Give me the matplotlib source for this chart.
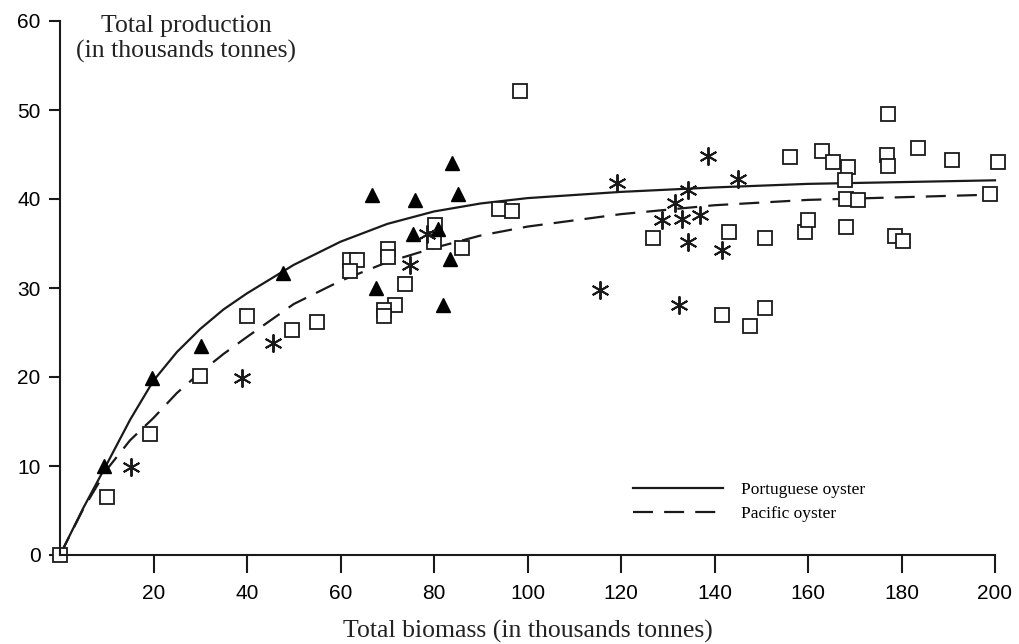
from matplotlib import pyplot as plt
from matplotlib.lines import Line2D

tri_x = [9.4, 19.6, 30.2, 47.8, 66.7, 75.9, 83.8, 85.2, 75.6, 80.9, 83.4, 67.7, 82.0]
tri_y = [10.0, 19.9, 23.5, 31.7, 40.4, 39.9, 44.0, 40.6, 36.1, 36.6, 33.3, 30.0, 28.1]

sq_x = [0, 10, 19.3, 30, 39.9, 49.6, 54.9, 62, 63.5, 62, 70.2, 70.2, 73.8, 71.7, 69.2, 69.2,
        80.2, 79.9, 86.0, 93.8, 96.6, 98.4, 126.9, 143, 141.5, 147.6, 150.8, 150.8, 156.1,
        163.1, 165.3, 168.6, 167.9, 168.1, 170.8, 159.4, 160.1, 168.1, 176.8, 177.2, 177.2,
        178.6, 180.4, 183.6, 190.9, 198.9, 200.7]
sq_y = [0, 6.5, 13.6, 20.1, 26.8, 25.3, 26.2, 33.2, 33.1, 31.9, 34.4, 33.5, 30.4, 28.1, 27.5, 26.8,
        37.1, 35.2, 34.5, 38.9, 38.7, 52.1, 35.6, 36.3, 27.0, 25.7, 27.7, 35.6, 44.7,
        45.4, 44.2, 43.6, 42.1, 40.0, 39.9, 36.3, 37.6, 36.9, 44.9, 43.7, 49.6,
        35.8, 35.3, 45.7, 44.4, 40.6, 44.2]

ast_x = [15.2, 38.9, 45.6, 74.9, 78.4, 115.5, 119.1, 128.7, 131.6, 133.0, 134.4, 136.9,
         134.4, 138.7, 141.5, 145.1, 132.3]
ast_y = [9.9, 19.9, 23.8, 32.6, 36.1, 29.8, 41.8, 37.6, 39.5, 37.8, 41.0, 38.2,
         35.2, 44.8, 34.3, 42.3, 28.1]

# fitted curves, read at these biomass values
curve_x = [0, 5, 10, 15, 20, 25, 30, 35, 40, 50, 60, 70, 80, 90, 100, 120, 140, 160, 180, 200]
portuguese = [0, 5.3, 10.2, 15.2, 19.6, 22.8, 25.4, 27.6, 29.4, 32.6, 35.2, 37.2, 38.6, 39.5,
              40.1, 40.8, 41.3, 41.7, 41.9, 42.1]
pacific = [0, 5.2, 9.6, 12.9, 15.4, 18.2, 20.5, 22.6, 24.5, 28.2, 30.8, 32.9, 34.5, 35.9,
           36.9, 38.3, 39.3, 39.9, 40.2, 40.5]

x_ticks = [20, 40, 60, 80, 100, 120, 140, 160, 180, 200]
y_ticks = [0, 10, 20, 30, 40, 50, 60]

SERIF = 'Liberation Serif'
SANS = 'Liberation Sans'


def main():
    fig = plt.figure(figsize=(10.2, 6.44), dpi=100)
    ax = fig.add_axes([60 / 1020, 89 / 644, 935 / 1020, 534 / 644])

    ax.plot(curve_x, portuguese, '-', color='#1a1a1a', lw=1.6, clip_on=False)
    ax.plot(curve_x, pacific, '--', color='#1a1a1a', lw=1.6, dashes=(9, 5), clip_on=False)

    ax.plot(sq_x, sq_y, 's', ms=9.5, mfc='white', mec='#1a1a1a', mew=1.3, ls='none', clip_on=False)
    ax.plot(tri_x, tri_y, '^', ms=9.5, color='black', ls='none', clip_on=False)
    ax.plot(ast_x, ast_y, marker=(6, 2, 0), ms=13, mec='#1a1a1a', mew=1.4, ls='none',
            clip_on=False)

    ax.set_xlim(0, 200)
    ax.set_ylim(0, 60)
    ax.spines['top'].set_visible(False)
    ax.spines['right'].set_visible(False)
    for side in ['left', 'bottom']:
        ax.spines[side].set_linewidth(1.5)
        ax.spines[side].set_color('#1a1a1a')

    ax.set_xticks(x_ticks)
    ax.set_yticks(y_ticks)
    ax.set_xticklabels([str(t) for t in x_ticks], fontfamily=SANS, fontsize=15)
    ax.set_yticklabels([str(t) for t in y_ticks], fontfamily=SANS, fontsize=15)
    ax.tick_params(axis='x', direction='out', length=13, width=1.5, pad=8, color='#1a1a1a')
    ax.tick_params(axis='y', direction='out', length=8, width=1.5, pad=6, color='#1a1a1a')

    fig.text(186 / 1020, 1 - 39 / 644, 'Total production\n(in thousands tonnes)',
             ha='center', va='center', fontfamily=SERIF, fontsize=18.5, linespacing=1.2,
             color='#222222')
    fig.text(528 / 1020, 1 - 631 / 644, 'Total biomass (in thousands tonnes)',
             ha='center', va='center', fontfamily=SERIF, fontsize=18.5, color='#222222')

    handles = [Line2D([], [], color='#1a1a1a', lw=1.6),
               Line2D([], [], color='#1a1a1a', lw=1.6, ls='--', dashes=(9, 5))]
    ax.legend(handles, ['Portuguese oyster', 'Pacific oyster'], loc='center left',
              bbox_to_anchor=((633 - 60) / 935, 1 - (502 - 21) / 534), frameon=False,
              borderpad=0, borderaxespad=0, handlelength=5.2, handletextpad=1.0,
              labelspacing=0.45, prop={'family': SERIF, 'size': 12.5})

    plt.savefig('out.png', dpi=100)


if __name__ == '__main__':
    main()
